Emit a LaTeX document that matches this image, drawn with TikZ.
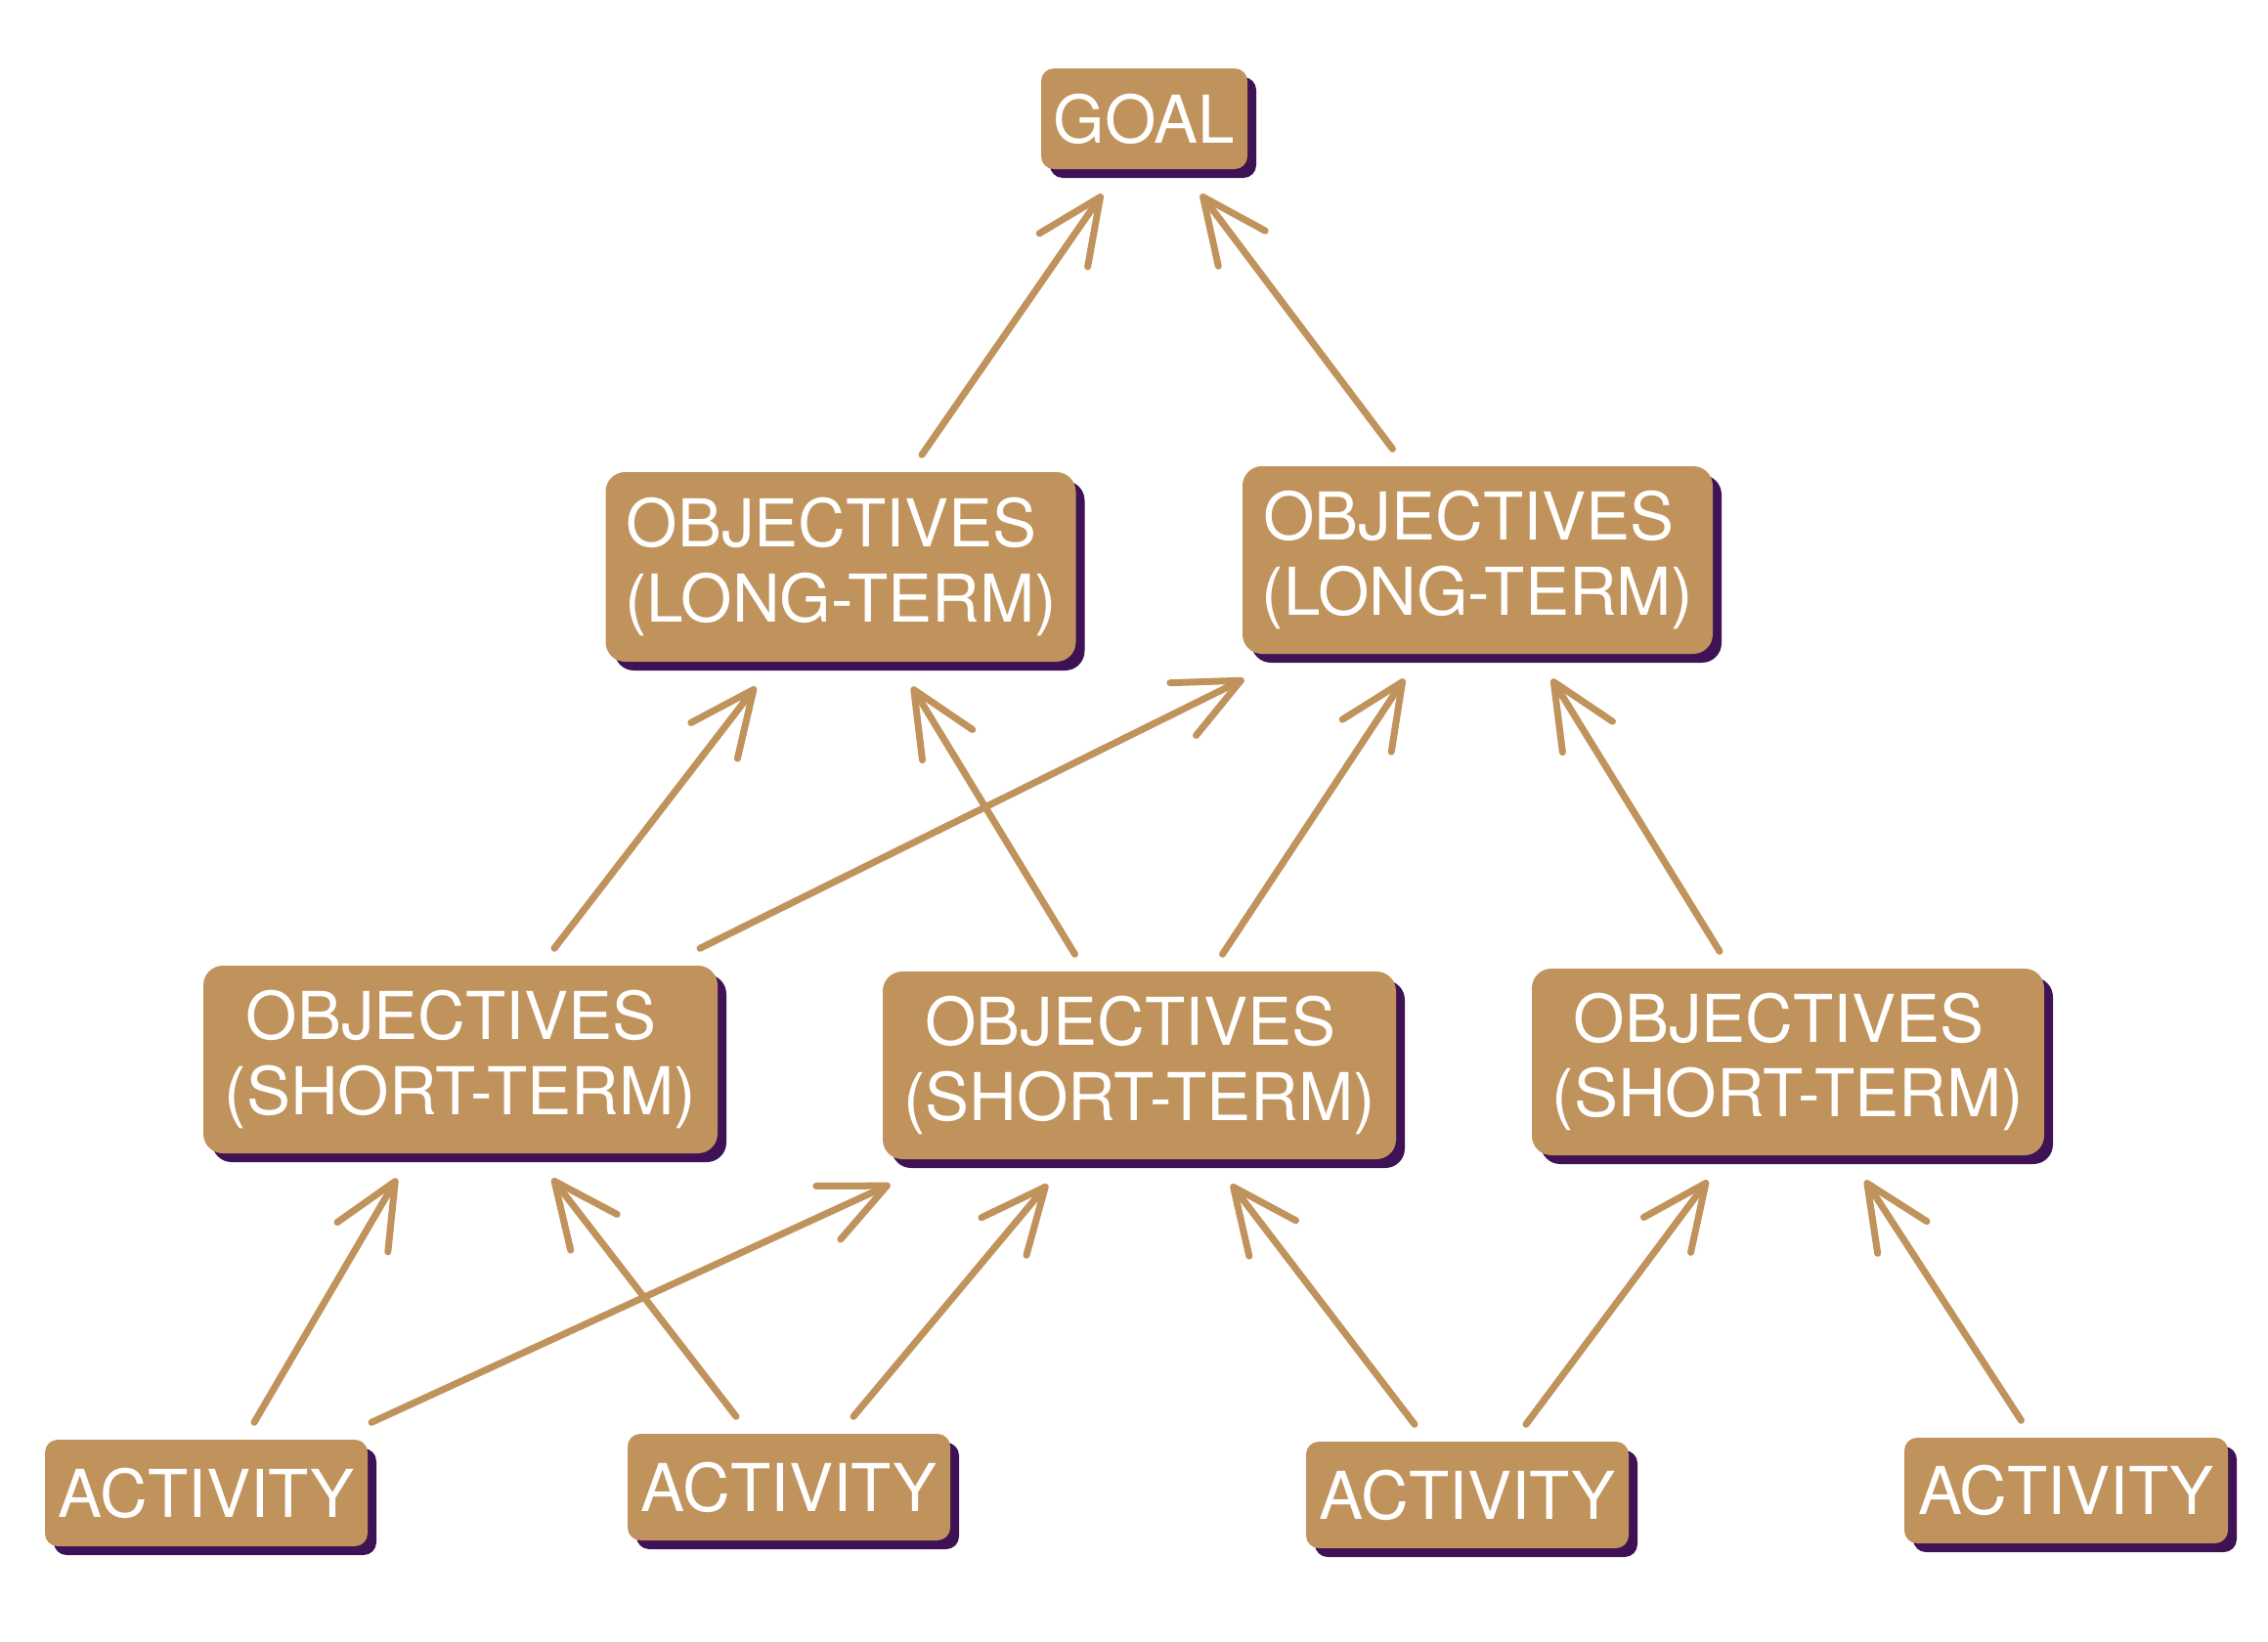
\documentclass[tikz,border=0pt]{standalone}
\usepackage{fontspec}
\setmainfont{TeX Gyre Heros}
\usetikzlibrary{arrows.meta,shadows}

\definecolor{boxtan}{RGB}{192,147,92}
\definecolor{boxshadow}{RGB}{63,17,85}

\tikzset{
  box/.style={fill=boxtan, text=white, inner sep=0pt, align=center, rounded corners=0.2cm,
    font=\fontsize{19.2}{21.8}\selectfont,
    drop shadow={shadow xshift=0.09cm, shadow yshift=-0.09cm, fill=boxshadow, opacity=1}},
  smallbox/.style={box, rounded corners=0.13cm},
  link/.style={draw=boxtan, line width=0.07cm, line cap=round,
    -{Straight Barb[length=6.6mm, width=6mm, round]}}
}

\begin{document}
\begin{tikzpicture}
  \useasboundingbox (0,0) rectangle (23.2,-16.8);

  \node [smallbox, minimum width=2.11cm, minimum height=1.03cm] (goal) at (11.705,-1.215) {GOAL};

  \node [box, minimum width=4.81cm, minimum height=1.94cm] (long1) at (8.60,-5.80) {OBJECTIVES\hphantom{\ }\\(LONG-TERM)};
  \node [box, minimum width=4.81cm, minimum height=1.92cm] (long2) at (15.115,-5.73) {OBJECTIVES\hphantom{\ }\\(LONG-TERM)};

  \node [box, minimum width=5.26cm, minimum height=1.92cm] (short1) at (4.71,-10.84) {OBJECTIVES\hphantom{\ }\\(SHORT-TERM)};
  \node [box, minimum width=5.25cm, minimum height=1.92cm] (short2) at (11.655,-10.90) {OBJECTIVES\hphantom{\ }\\(SHORT-TERM)};
  \node [box, minimum width=5.24cm, minimum height=1.91cm] (short3) at (18.29,-10.865) {OBJECTIVES\hphantom{\ }\\(SHORT-TERM)};

  \node [smallbox, minimum width=3.30cm, minimum height=1.09cm] (act1) at (2.11,-15.275) {ACTIVITY};
  \node [smallbox, minimum width=3.30cm, minimum height=1.09cm] (act2) at (8.07,-15.215) {ACTIVITY};
  \node [smallbox, minimum width=3.30cm, minimum height=1.09cm] (act3) at (15.01,-15.295) {ACTIVITY};
  \node [smallbox, minimum width=3.31cm, minimum height=1.08cm] (act4) at (21.135,-15.25) {ACTIVITY};

  % long-term -> goal
  \draw [link] ([shift={(0.83,0.17)}]long1.north) -- ([shift={(-0.43,-0.25)}]goal.south);
  \draw [link] ([shift={(-0.87,0.17)}]long2.north) -- ([shift={(0.58,-0.25)}]goal.south);

  % short-term -> long-term
  \draw [link] ([shift={(0.96,0.17)}]short1.north) -- ([shift={(-0.87,-0.25)}]long1.south);
  \draw [link] ([shift={(2.45,0.17)}]short1.north) -- ([shift={(-2.39,-0.25)}]long2.south);
  \draw [link] ([shift={(-0.66,0.17)}]short2.north) -- ([shift={(0.73,-0.25)}]long1.south);
  \draw [link] ([shift={(0.85,0.17)}]short2.north) -- ([shift={(-0.75,-0.25)}]long2.south);
  \draw [link] ([shift={(-0.70,0.17)}]short3.north) -- ([shift={(0.76,-0.25)}]long2.south);

  % activities -> short-term
  \draw [link] ([shift={(0.49,0.17)}]act1.north) -- ([shift={(-0.65,-0.25)}]short1.south);
  \draw [link] ([shift={(1.69,0.17)}]act1.north) -- ([shift={(-2.55,-0.25)}]short2.south);
  \draw [link] ([shift={(-0.54,0.17)}]act2.north) -- ([shift={(0.94,-0.25)}]short1.south);
  \draw [link] ([shift={(0.66,0.17)}]act2.north) -- ([shift={(-0.94,-0.25)}]short2.south);
  \draw [link] ([shift={(-0.54,0.17)}]act3.north) -- ([shift={(0.94,-0.25)}]short2.south);
  \draw [link] ([shift={(0.60,0.17)}]act3.north) -- ([shift={(-0.82,-0.25)}]short3.south);
  \draw [link] ([shift={(-0.46,0.17)}]act4.north) -- ([shift={(0.79,-0.25)}]short3.south);
\end{tikzpicture}
\end{document}
